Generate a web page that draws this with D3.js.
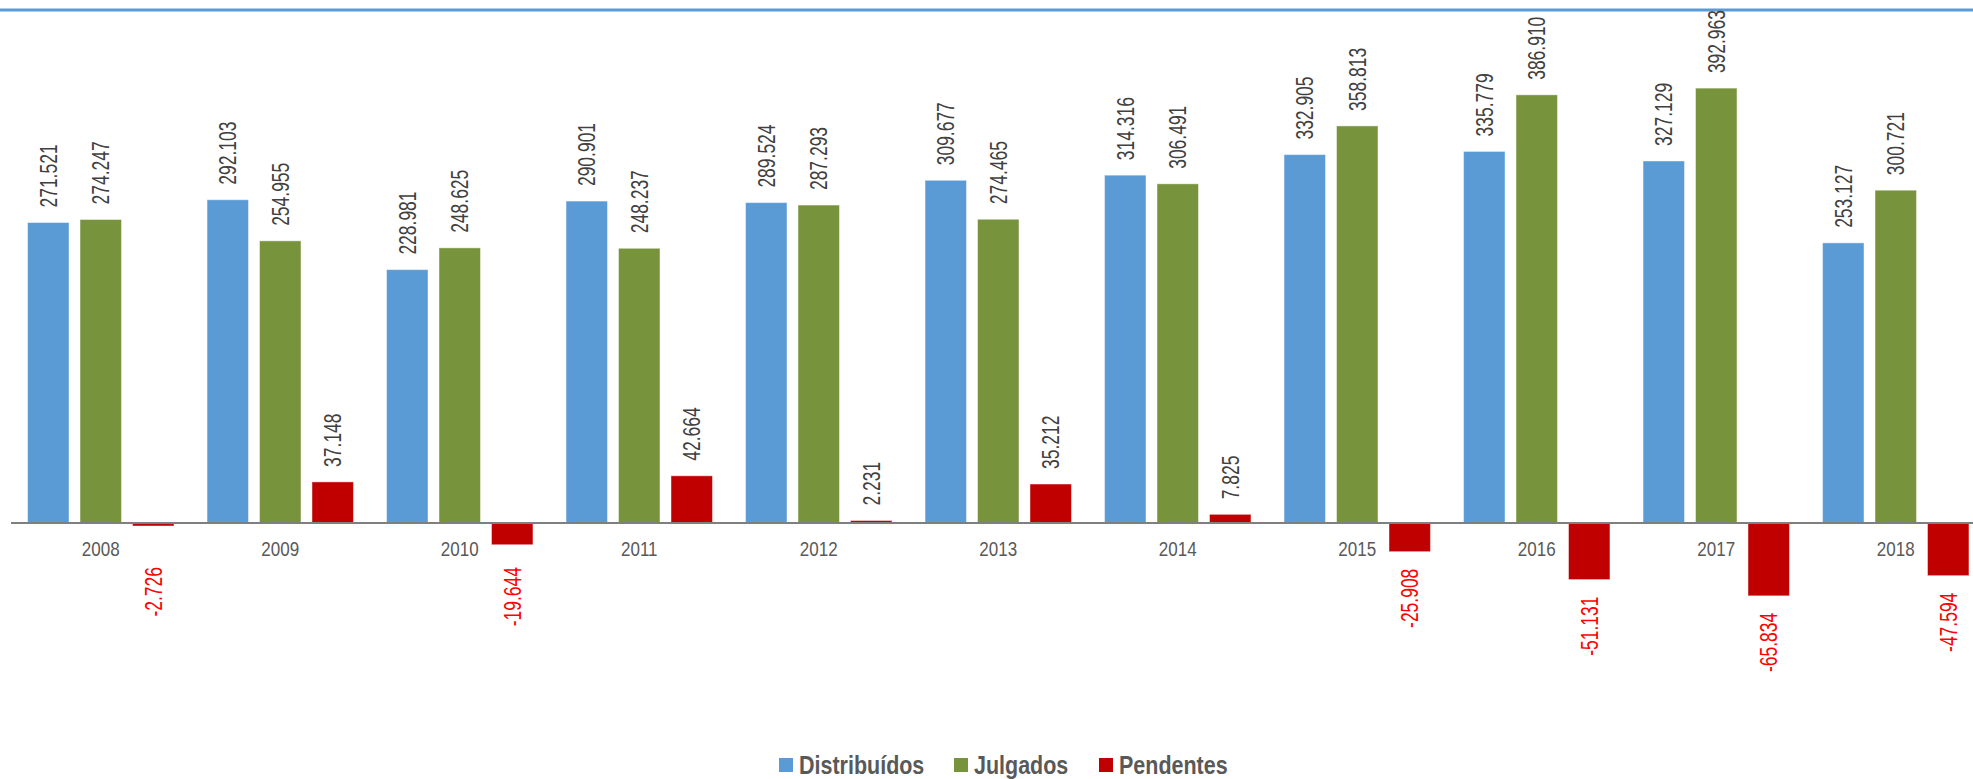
<!DOCTYPE html>
<html>
<head>
<meta charset="utf-8">
<script src="https://cdn.jsdelivr.net/npm/d3@7"></script>
<style>
  body { margin: 0; background: #fff; }
  svg { display: block; }
  .val { font-family: "Liberation Sans", Arial, sans-serif; font-size: 23px; }
  .cat { font-family: "Liberation Sans", Arial, sans-serif; font-size: 21px; fill: #595959; }
  .leg { font-family: "Liberation Sans", Arial, sans-serif; font-size: 25px; font-weight: bold; fill: #595959; }
</style>
</head>
<body>
<div class="chart"></div>
<script>
// Data.
const years = ['2008', '2009', '2010', '2011', '2012', '2013', '2014', '2015', '2016', '2017', '2018'];
const distribuidos = [271.521, 292.103, 228.981, 290.901, 289.524, 309.677, 314.316, 332.905, 335.779, 327.129, 253.127];
const julgados = [274.247, 254.955, 248.625, 248.237, 287.293, 274.465, 306.491, 358.813, 386.910, 392.963, 300.721];
const pendentes = [-2.726, 37.148, -19.644, 42.664, 2.231, 35.212, 7.825, -25.908, -51.131, -65.834, -47.594];
const seriesNames = ['Distribuídos', 'Julgados', 'Pendentes'];
const seriesColors = ['#5B9BD5', '#77933C', '#C00000'];

const seriesValues = [distribuidos, julgados, pendentes];
const rows = [];
years.forEach((yr, i) => {
  seriesNames.forEach((s, j) => rows.push({ year: yr, series: s, value: seriesValues[j][i] }));
});

// Dimensions.
const width = 1973, height = 779;
// narrow look: Liberation Sans squeezed horizontally
const squeezeVal = 0.76, squeezeCat = 0.81, squeezeLeg = 0.86;

// Scales.
const x0 = d3.scaleBand().domain(years).range([11, 11 + years.length * 179.5]);
const x1 = d3.scaleBand().domain(seriesNames).range([0, x0.bandwidth()])
              .paddingInner(0.21).paddingOuter(0.315);
const y = d3.scaleLinear().domain([-150, 450]).range([689, 25]);
const color = d3.scaleOrdinal().domain(seriesNames).range(seriesColors);

const fmt = v => v.toFixed(3);

// Draw base.
const svg = d3.select('.chart').append('svg')
  .attr('width', width)
  .attr('height', height);

// Top rule.
svg.append('line')
  .attr('x1', 0).attr('x2', width)
  .attr('y1', 10).attr('y2', 10)
  .attr('stroke', '#5B9BD5')
  .attr('stroke-width', 3);

// Bars.
const bars = svg.append('g').attr('class', 'bars');
bars.selectAll('rect')
  .data(rows)
  .join('rect')
  .attr('x', d => x0(d.year) + x1(d.series))
  .attr('width', x1.bandwidth())
  .attr('y', d => y(Math.max(0, d.value)))
  .attr('height', d => Math.abs(y(d.value) - y(0)))
  .attr('fill', d => color(d.series))
  .attr('stroke', 'rgba(255,255,255,0.45)')
  .attr('stroke-width', 1);

// Axis line.
svg.append('line')
  .attr('x1', 11).attr('x2', width)
  .attr('y1', y(0)).attr('y2', y(0))
  .attr('stroke', '#7F7F7F')
  .attr('stroke-width', 2);

// Category labels.
svg.append('g').selectAll('text')
  .data(years)
  .join('text')
  .attr('class', 'cat')
  .attr('transform', d => `translate(${x0(d) + x0.bandwidth() / 2},${y(0) + 33}) scale(${squeezeCat},1)`)
  .attr('text-anchor', 'middle')
  .text(d => d);

// Value labels.
svg.append('g').selectAll('text')
  .data(rows)
  .join('text')
  .attr('class', 'val')
  .attr('transform', d => {
    const cx = x0(d.year) + x1(d.series) + x1.bandwidth() / 2;
    const ty = d.value >= 0 ? y(d.value) - 15 : Math.max(y(d.value) + 17, y(0) + 44);
    return `translate(${cx},${ty}) rotate(-90) scale(${squeezeVal},1)`;
  })
  .attr('dy', '0.36em')
  .attr('text-anchor', d => d.value >= 0 ? 'start' : 'end')
  .attr('fill', d => d.value >= 0 ? '#404040' : '#FF0000')
  .text(d => fmt(d.value));

// Legend.
const legendX = [779, 954, 1099];
const legend = svg.append('g').attr('class', 'legend');
const item = legend.selectAll('g')
  .data(seriesNames)
  .join('g')
  .attr('transform', (d, i) => `translate(${legendX[i]},758)`);
item.append('rect')
  .attr('width', 14).attr('height', 14)
  .attr('fill', d => color(d));
item.append('text')
  .attr('class', 'leg')
  .attr('transform', `translate(20,15.5) scale(${squeezeLeg},1)`)
  .text(d => d);
</script>
</body>
</html>
